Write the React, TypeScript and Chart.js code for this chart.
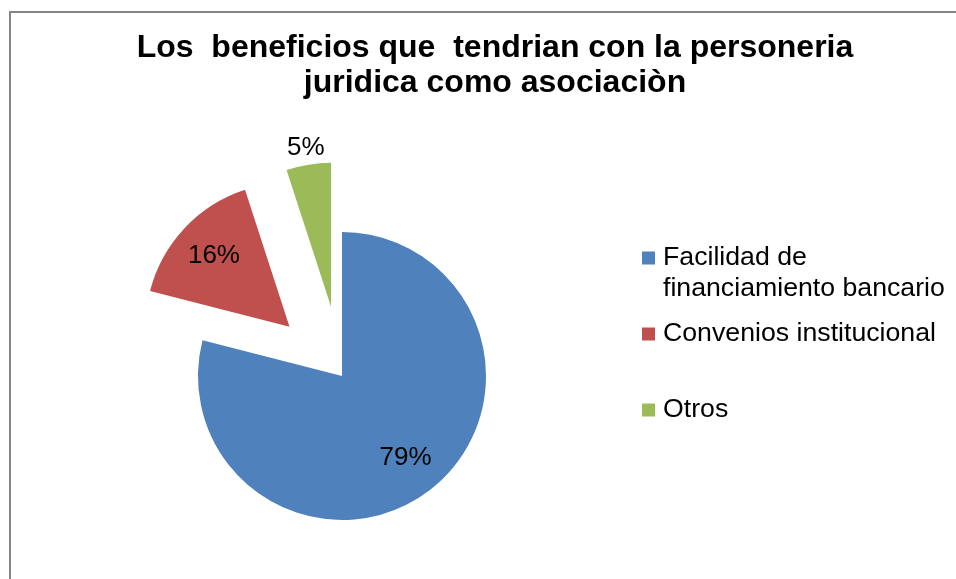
import React, { useEffect, useRef } from "react";
import { Chart, registerables } from "chart.js";

Chart.register(...registerables);

// ---- data ----
const TITLE_LINES = [
  "Los  beneficios que  tendrian con la personeria",
  "juridica como asociaciòn",
];
const CATEGORIES = [
  "Facilidad de financiamiento bancario",
  "Convenios institucional",
  "Otros",
];
const VALUES = [79, 16, 5];
const COLORS = ["#4F81BD", "#C0504D", "#9BBB59"];
const EXPLODE = [0, 72, 70]; // slice explosion distance (style)

const FONT = "'Liberation Sans', Arial, Helvetica, sans-serif";
const CANVAS_W = 990;
const CANVAS_H = 660;

const framePlugin = {
  id: "frame",
  beforeDraw(chart: any) {
    const ctx = chart.ctx;
    ctx.save();
    ctx.fillStyle = "#ffffff";
    ctx.fillRect(0, 0, chart.width, chart.height);
    ctx.strokeStyle = "#868686";
    ctx.lineWidth = 2;
    ctx.strokeRect(10, 12, chart.width - 20, chart.height - 4);
    ctx.restore();
  },
};

const explodePlugin = {
  id: "explode",
  afterDatasetsUpdate(chart: any) {
    const meta = chart.getDatasetMeta(0);
    meta.data.forEach((arc: any, i: number) => {
      const d = EXPLODE[i] || 0;
      if (!d) return;
      const mid = (arc.startAngle + arc.endAngle) / 2;
      arc.x += Math.cos(mid) * d;
      arc.y += Math.sin(mid) * d;
    });
  },
};

const labelPlugin = {
  id: "sliceLabels",
  afterDatasetsDraw(chart: any) {
    const ctx = chart.ctx;
    const meta = chart.getDatasetMeta(0);
    const values = chart.data.datasets[0].data as number[];
    const total = values.reduce((a, b) => a + b, 0);
    ctx.save();
    ctx.font = `26px ${FONT}`;
    ctx.fillStyle = "#000000";
    ctx.textAlign = "center";
    ctx.textBaseline = "middle";
    meta.data.forEach((arc: any, i: number) => {
      const frac = values[i] / total;
      const mid = (arc.startAngle + arc.endAngle) / 2;
      const r = arc.outerRadius * (frac < 0.1 ? 1.12 : 0.72);
      const x = arc.x + Math.cos(mid) * r;
      const y = arc.y + Math.sin(mid) * r;
      ctx.fillText(`${Math.round(frac * 100)}%`, x, y);
    });
    ctx.restore();
  },
};

const titleLegendPlugin = {
  id: "titleLegend",
  afterDraw(chart: any) {
    const ctx = chart.ctx;
    ctx.save();
    // title
    ctx.font = `bold 32px ${FONT}`;
    ctx.fillStyle = "#000000";
    ctx.textAlign = "center";
    ctx.textBaseline = "middle";
    TITLE_LINES.forEach((line, i) => {
      ctx.fillText(line, chart.width / 2, 48 + i * 35);
    });

    // legend
    const labels = chart.data.labels as string[];
    const colors = chart.data.datasets[0].backgroundColor as string[];
    const boxX = chart.chartArea.right - 42;
    const textX = boxX + 21;
    const maxW = 295;
    const lineH = 31;
    const slot = 76;
    ctx.font = `26.7px ${FONT}`;
    ctx.textAlign = "left";
    labels.forEach((label, i) => {
      const words = label.split(" ");
      const lines: string[] = [];
      let cur = "";
      words.forEach((w) => {
        const test = cur ? cur + " " + w : w;
        if (ctx.measureText(test).width > maxW && cur) {
          lines.push(cur);
          cur = w;
        } else {
          cur = test;
        }
      });
      if (cur) lines.push(cur);
      const y0 = 258 + i * slot;
      ctx.fillStyle = colors[i];
      ctx.fillRect(boxX, y0 - 6.5, 13, 13);
      ctx.fillStyle = "#000000";
      lines.forEach((ln, j) => ctx.fillText(ln, textX, y0 + j * lineH));
    });
    ctx.restore();
  },
};

export default function App() {
  const ref = useRef<HTMLCanvasElement | null>(null);

  useEffect(() => {
    if (!ref.current) return;
    const chart = new Chart(ref.current, {
      type: "pie",
      data: {
        labels: CATEGORIES,
        datasets: [
          {
            data: VALUES,
            backgroundColor: COLORS,
            borderWidth: 0,
            radius: 144,
          } as any,
        ],
      },
      options: {
        responsive: false,
        animation: false,
        devicePixelRatio: 1,
        events: [],
        layout: { padding: { left: 0, right: 306, top: 110, bottom: 18 } },
        plugins: {
          legend: { display: false },
          title: { display: false },
          tooltip: { enabled: false },
        },
      } as any,
      plugins: [framePlugin, explodePlugin, labelPlugin, titleLegendPlugin],
    });
    return () => chart.destroy();
  }, []);

  return (
    <div
      style={{
        position: "fixed",
        left: 0,
        top: 0,
        width: 956,
        height: 579,
        overflow: "hidden",
        background: "#fff",
      }}
    >
      <canvas
        ref={ref}
        width={CANVAS_W}
        height={CANVAS_H}
        style={{ display: "block", width: CANVAS_W, height: CANVAS_H }}
      />
    </div>
  );
}
